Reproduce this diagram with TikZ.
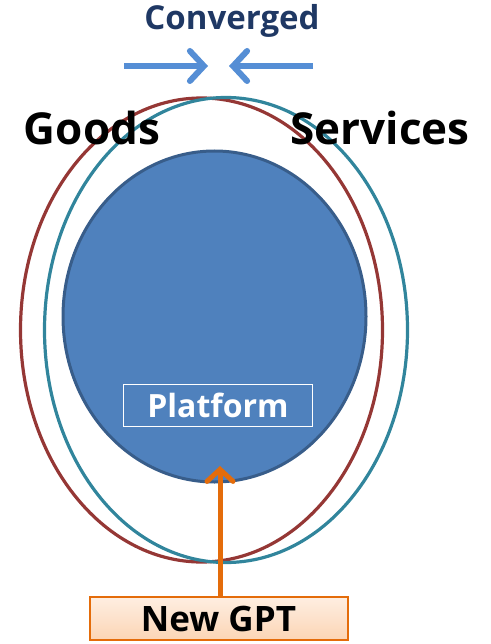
\documentclass[tikz,border=0pt]{standalone}
\usepackage{fontspec}
\setmainfont{Open Sans}
\usetikzlibrary{arrows.meta,shapes.geometric}
\definecolor{convblue}{HTML}{1F3864}
\definecolor{arrblue}{HTML}{558ED5}
\definecolor{redring}{HTML}{953735}
\definecolor{tealring}{HTML}{31859C}
\definecolor{platfill}{HTML}{4F81BD}
\definecolor{platedge}{HTML}{385D8A}
\definecolor{gptorange}{HTML}{E46C0A}
\definecolor{gptfill}{HTML}{FCD5B5}
\tikzset{
  ring/.style={draw, line width=3.2pt, ellipse, inner sep=0pt},
  bigword/.style={font=\fontsize{44}{48}\selectfont\bfseries, text=black},
  convarrow/.style={arrblue, line width=6pt, -{Straight Barb[length=14pt,width=30pt,line cap=round]}},
  gptarrow/.style={gptorange, line width=5pt, -{Straight Barb[length=12pt,width=26pt,line cap=round]}},
}
\begin{document}
\begin{tikzpicture}[x=1pt,y=-1pt]
\useasboundingbox (0,0) rectangle (490,644);
% rings
\node[ring, draw=redring, minimum width=362pt, minimum height=464pt] (red) at (201.5,330) {};
\node[ring, draw=tealring, minimum width=363pt, minimum height=465pt] (teal) at (226,330) {};
% platform circle
\node[ellipse, fill=platfill, draw=platedge, line width=3pt, minimum width=303pt, minimum height=331pt, inner sep=0pt] (plat) at (214.5,316.5) {};
\node[draw=white, line width=1.5pt, minimum width=189pt, minimum height=42pt, inner sep=0pt, text=white, font=\fontsize{32}{34}\selectfont\bfseries] (platbox) at (218,405.5) {Platform};
% labels
\node[bigword] (goods) at (92,128) {Goods};
\node[bigword] (services) at (380,128) {Services};
\node[text=convblue, font=\fontsize{33}{36}\selectfont\bfseries] (conv) at (232,21) {Converged};
% converged arrows
\coordinate (la) at (124,66);
\coordinate (lb) at (208,66);
\coordinate (ra) at (313,66);
\coordinate (rb) at (229,66);
\draw[convarrow] (la) -- (lb);
\draw[convarrow] (ra) -- (rb);
% new GPT
\node[draw=gptorange, line width=2pt, top color=gptfill!40, bottom color=gptfill, minimum width=258pt, minimum height=43pt, inner sep=0pt, font=\fontsize{35}{38}\selectfont\bfseries] (gpt) at (218.5,618.5) {New GPT};
\coordinate (tip) at (220,466);
\draw[gptarrow] (gpt.north -| tip) -- (tip);
\end{tikzpicture}
\end{document}
